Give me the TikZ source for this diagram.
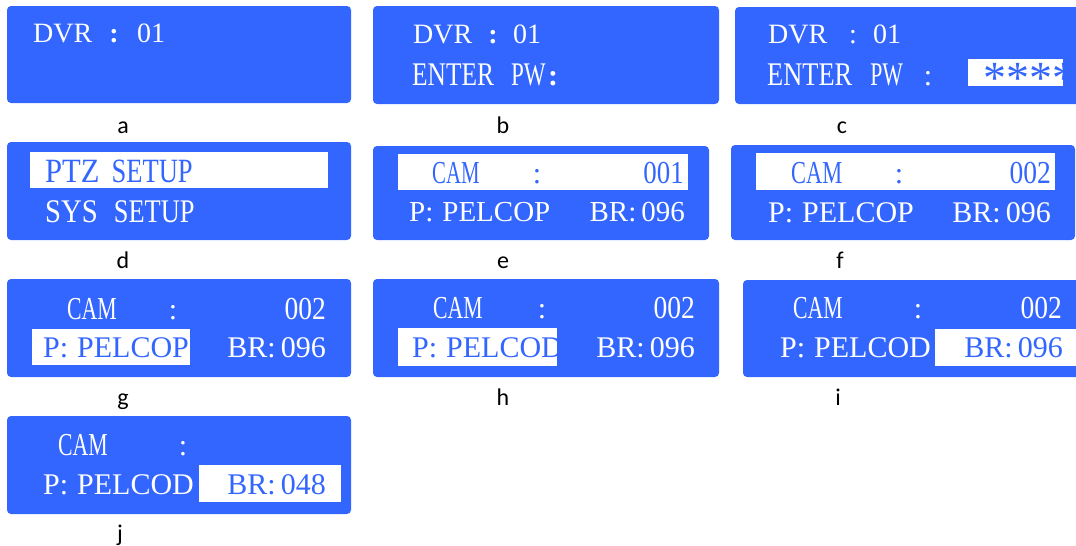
\documentclass[tikz,border=0pt]{standalone}
\usepackage{graphicx}
\usepackage{fontspec}
\setmainfont{Liberation Serif}
\newfontfamily\labfont{Carlito}
\definecolor{lcd}{RGB}{51,102,255}
\newcommand\fs[1]{\fontsize{#1}{#1}\selectfont}
\newcommand\sx[2]{\scalebox{#1}[1]{#2}}
\tikzset{
  panel/.style={fill=lcd, rounded corners=4pt},
  hl/.style={fill=white},
  tw/.style={inner sep=0pt, text=white},
  tb/.style={inner sep=0pt, text=lcd},
  lab/.style={inner sep=0pt, anchor=base, font=\labfont\fs{24}},
  bw/.style={anchor=base west},
  be/.style={anchor=base east},
  bc/.style={anchor=base},
}
\begin{document}
\begin{tikzpicture}[x=1pt,y=-1pt]
\useasboundingbox (0,0) rectangle (1076,546);
\clip (0,0) rectangle (1076,546);
% ---------- a
\fill[panel] (7,6) rectangle (351,103);
\node[tw,bw,font=\fs{28}] (aDVR) at (33,42) {DVR};
\node[tw,bc,font=\fs{28}\bfseries] (aCol) at (114,42) {:};
\node[tw,bw,font=\fs{28}] (aNum) at (137,42) {01};
\node[lab] (la) at (123,133) {a};
% ---------- b
\fill[panel] (373,6) rectangle (719,104);
\node[tw,bw,font=\fs{28}] (bDVR) at (413,43) {DVR};
\node[tw,bc,font=\fs{28}\bfseries] (bCol) at (493,43) {:};
\node[tw,bw,font=\fs{28}] (bNum) at (513,43) {01};
\node[tw,bw,font=\fs{33}] (bPW) at (412,85) {\sx{0.77}{ENTER}\hspace{17pt}\sx{0.7}{PW}};
\node[tw,bc,font=\fs{30}\bfseries] (bCol2) at (553,85) {:};
\node[lab] (lb) at (503,133) {b};
% ---------- c
\fill[panel] (735,7) rectangle (1090,104);
\node[tw,bw,font=\fs{28}] (cDVR) at (768,43) {DVR};
\node[tw,bc,font=\fs{28}] (cCol) at (853,43) {:};
\node[tw,bw,font=\fs{28}] (cNum) at (873,43) {01};
\node[tw,bw,font=\fs{33}] (cPW) at (767,85) {\sx{0.8}{ENTER}\hspace{18pt}\sx{0.66}{PW}};
\node[tw,bc,font=\fs{30}] (cCol2) at (928,85) {:};
\fill[hl] (968,59) rectangle (1063,86);
\begin{scope}
  \clip (968,59) rectangle (1063,86);
  \node[tb,bw,font=\fs{46}] (cStars) at (983,93) {****};
\end{scope}
\node[lab] (lc) at (842,133) {c};
% ---------- d
\fill[panel] (7,142) rectangle (351,240);
\fill[hl] (30,152) rectangle (328,188);
\node[tb,bw,font=\fs{34}] (dPTZ) at (45,182) {\sx{0.9}{PTZ}\hspace{12pt}\sx{0.78}{SETUP}};
\node[tw,bw,font=\fs{33}] (dSYS) at (45,222) {\sx{0.87}{SYS}\hspace{16pt}\sx{0.8}{SETUP}};
\node[lab] (ld) at (123,268) {d};
% ---------- e
\fill[panel] (373,146) rectangle (709,240);
\fill[hl] (398,154) rectangle (688,190);
\node[tb,bw,font=\fs{32}] (eCAM) at (432,183) {\sx{0.65}{CAM}};
\node[tb,bc,font=\fs{30}] (eCol) at (537,183) {:};
\node[tb,be,font=\fs{32}] (eNum) at (684,183) {\sx{0.84}{001}};
\node[tw,bw,font=\fs{29}] (eP) at (409,221) {P:\hspace{9pt}PELCOP};
\node[tw,be,font=\fs{29}] (eBR) at (685,221) {BR:\hspace{5pt}096};
\node[lab] (le) at (503,268) {e};
% ---------- f
\fill[panel] (731,145) rectangle (1075,240);
\fill[hl] (756,153) rectangle (1055,190);
\node[tb,bw,font=\fs{32}] (fCAM) at (791,183) {\sx{0.7}{CAM}};
\node[tb,bc,font=\fs{30}] (fCol) at (899,183) {:};
\node[tb,be,font=\fs{32}] (fNum) at (1051,183) {\sx{0.86}{002}};
\node[tw,bw,font=\fs{30}] (fP) at (768,222) {P:\hspace{9pt}PELCOP};
\node[tw,be,font=\fs{30}] (fBR) at (1051,222) {BR:\hspace{5pt}096};
\node[lab] (lf) at (840,268) {f};
% ---------- g
\fill[panel] (7,279) rectangle (351,377);
\fill[hl] (32,329) rectangle (190,365);
\node[tw,bw,font=\fs{32}] (gCAM) at (67,319) {\sx{0.68}{CAM}};
\node[tw,bc,font=\fs{30}] (gCol) at (173,319) {:};
\node[tw,be,font=\fs{32}] (gNum) at (326,319) {\sx{0.86}{002}};
\node[tb,bw,font=\fs{30}] (gP) at (43,357) {P:\hspace{9pt}PELCOP};
\node[tw,be,font=\fs{30}] (gBR) at (326,357) {BR:\hspace{5pt}096};
\node[lab] (lg) at (123,405) {g};
% ---------- h
\fill[panel] (373,279) rectangle (719,377);
\fill[hl] (398,328) rectangle (557,366);
\node[tw,bw,font=\fs{32}] (hCAM) at (433,318) {\sx{0.68}{CAM}};
\node[tw,bc,font=\fs{30}] (hCol) at (542,318) {:};
\node[tw,be,font=\fs{32}] (hNum) at (695,318) {\sx{0.86}{002}};
\begin{scope}
  \clip (398,328) rectangle (557,366);
  \node[tb,bw,font=\fs{30}] (hP) at (412,357) {P:\hspace{9pt}PELCOD};
\end{scope}
\node[tw,be,font=\fs{30}] (hBR) at (695,357) {BR:\hspace{5pt}096};
\node[lab] (lh) at (503,405) {h};
% ---------- i
\fill[panel] (743,280) rectangle (1090,377);
\fill[hl] (935,329) rectangle (1090,366);
\node[tw,bw,font=\fs{32}] (iCAM) at (793,318) {\sx{0.68}{CAM}};
\node[tw,bc,font=\fs{30}] (iCol) at (918,318) {:};
\node[tw,be,font=\fs{32}] (iNum) at (1062,318) {\sx{0.86}{002}};
\node[tw,bw,font=\fs{30}] (iP) at (780,357) {P:\hspace{9pt}PELCOD};
\node[tb,be,font=\fs{30}] (iBR) at (1063,357) {BR:\hspace{5pt}096};
\node[lab] (li) at (838,405) {i};
% ---------- j
\fill[panel] (7,416) rectangle (351,514);
\fill[hl] (199,465) rectangle (341,502);
\node[tw,bw,font=\fs{32}] (jCAM) at (58,455) {\sx{0.68}{CAM}};
\node[tw,bc,font=\fs{30}] (jCol) at (183,455) {:};
\node[tw,bw,font=\fs{30}] (jP) at (43,494) {P:\hspace{9pt}PELCOD};
\node[tb,be,font=\fs{30}] (jBR) at (326,494) {BR:\hspace{5pt}048};
\node[lab] (lj) at (120,541) {j};
\end{tikzpicture}
\end{document}
